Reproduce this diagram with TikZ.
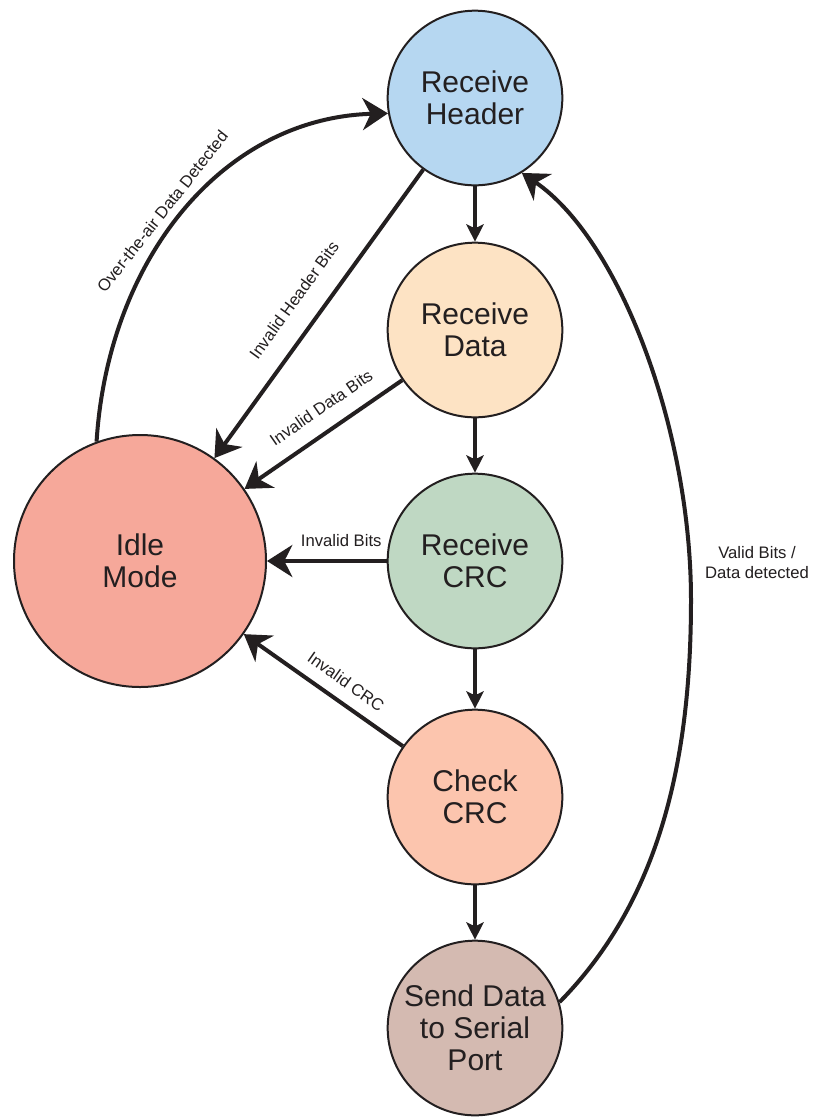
\documentclass[tikz,border=0pt]{standalone}
\usepackage{fontspec}
\setmainfont{Liberation Sans}
\usetikzlibrary{arrows.meta}
\definecolor{cHeader}{HTML}{B6D7F1}
\definecolor{cData}{HTML}{FDE3C4}
\definecolor{cRcrc}{HTML}{BFD8C3}
\definecolor{cCheck}{HTML}{FCC5AE}
\definecolor{cSend}{HTML}{D4BAB1}
\definecolor{cIdle}{HTML}{F6A89A}
\definecolor{ink}{HTML}{231F20}
\begin{document}
\begin{tikzpicture}[x=0.75pt,y=-0.75pt,
  state/.style={circle, draw=ink, line width=1.5pt, minimum size=131pt, inner sep=0pt,
    align=center, text=ink, font=\fontsize{22.5}{24}\selectfont},
  bigstate/.style={state, minimum size=189pt},
  conn/.style={draw=ink, line width=3pt},
  bigarrow/.style={conn, -{Stealth[length=19pt,width=24pt,inset=6pt]}},
  smallarrow/.style={conn, -{Stealth[length=13pt,width=13pt,inset=3pt]}},
  lbl/.style={font=\fontsize{12.5}{15}\selectfont, text=ink, inner sep=2pt},
]
\fill[white] (0,0) rectangle (814,1118);
\useasboundingbox (0,0) rectangle (814,1118);

\node[state, fill=cHeader] (rh) at (475,98) {Receive\\Header};
\node[state, fill=cData] (rd) at (475,330) {Receive\\Data};
\node[state, fill=cRcrc] (rc) at (475,561) {Receive\\CRC};
\node[state, fill=cCheck] (cc) at (475,797) {Check\\CRC};
\node[state, fill=cSend] (sd) at (475,1028) {Send Data\\to Serial\\Port};
\node[bigstate, fill=cIdle] (idle) at (140,561) {Idle\\Mode};

% main chain
\draw[smallarrow] (rh) -- (rd);
\draw[smallarrow] (rd) -- (rc);
\draw[smallarrow] (rc) -- (cc);
\draw[smallarrow] (cc) -- (sd);

% failures back to idle
\draw[bigarrow] (rh) -- node[lbl, sloped, above, pos=0.51, inner sep=15pt] (lhdr) {Invalid Header Bits} (idle);
\draw[bigarrow] (rd) -- node[lbl, sloped, above, pos=0.43, inner sep=11.5pt] (ldat) {Invalid Data Bits} (idle);
\draw[bigarrow] (rc) -- node[lbl, sloped, above, pos=0.38, inner sep=9.5pt] (lbits) {Invalid Bits} (idle);
\draw[bigarrow] (cc) -- node[lbl, sloped, above, pos=0.43, inner sep=9pt] (lcrc) {Invalid CRC} (idle);

% idle to header
\draw[bigarrow] (idle.110) .. controls (108,260) and (222,118) ..
  node[lbl, sloped, above, pos=0.47, inner sep=6.5pt] (lair) {Over-the-air Data Detected} (rh.190);

% send data back to header
\coordinate (vm) at (691,600);
\draw[bigarrow] (sd.17) .. controls (660,900) and (691,760) .. (vm)
  .. controls (691,430) and (620,240) .. (rh.-58);
\node[lbl, align=center] (lvalid) at (757,563) {Valid Bits /\\Data detected};
\end{tikzpicture}
\end{document}
